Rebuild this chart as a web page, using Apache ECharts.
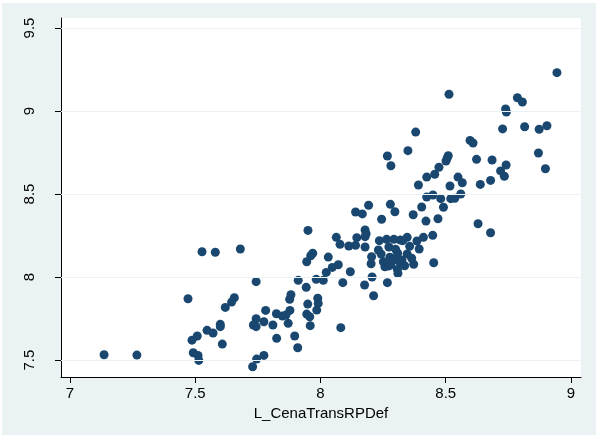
<!DOCTYPE html>
<html>
<head>
<meta charset="utf-8">
<script src="https://cdn.jsdelivr.net/npm/echarts@6/dist/echarts.min.js"></script>
<style>
  html, body { margin: 0; padding: 0; background: #fff; }
  .frame {
    position: absolute; left: 2px; top: 3px;
    width: 594px; height: 432px;
    background: #EAF2F3;
  }
  #chart { position: absolute; left: 0; top: 0; width: 596px; height: 435px; }
</style>
</head>
<body>
<div class="frame"></div>
<div id="chart"></div>
<script>
// L_CenaTransRPDef (x) vs. unnamed y
const xVals = [
  7.136, 7.267, 7.527, 7.580, 7.680, 7.743, 7.471, 7.656, 7.645, 7.620,
  7.743, 7.732, 7.743, 7.547, 7.571, 7.600, 7.600, 7.508, 7.487, 7.608,
  7.492, 7.511, 7.514, 7.745, 7.729, 7.774, 7.950, 7.969, 7.961, 7.945,
  7.911, 7.983, 7.943, 7.882, 7.877, 7.949, 7.989, 7.991, 7.985, 7.781,
  7.824, 7.848, 7.862, 7.878, 7.774, 7.810, 7.871, 7.945, 7.957, 7.959,
  7.897, 7.825, 7.909, 8.349, 8.267, 8.281, 8.424, 8.391, 8.424, 8.404,
  8.370, 8.421, 8.192, 8.140, 8.167, 8.279, 8.297, 8.244, 8.178, 8.182,
  8.178, 8.063, 8.078, 8.113, 8.140, 8.145, 8.178, 8.235, 8.264, 8.293,
  8.319, 8.346, 8.328, 8.411, 8.385, 8.394, 8.356, 8.231, 8.242, 8.273,
  8.300, 8.308, 8.204, 8.202, 8.346, 8.364, 8.372, 8.277, 8.291, 8.308,
  8.325, 8.320, 8.336, 8.251, 8.257, 8.271, 8.281, 8.307, 8.309, 8.267,
  8.206, 8.176, 8.212, 8.031, 8.071, 8.047, 8.023, 8.011, 8.119, 8.089,
  8.081, 8.513, 8.786, 8.806, 8.739, 8.742, 8.727, 8.815, 8.873, 8.904,
  8.870, 8.898, 8.597, 8.609, 8.623, 8.685, 8.719, 8.741, 8.734, 8.506,
  8.510, 8.501, 8.473, 8.456, 8.549, 8.566, 8.517, 8.638, 8.679, 8.449,
  8.480, 8.520, 8.536, 8.560, 8.491, 8.469, 8.448, 8.452, 8.629, 8.679,
  8.944, 8.380
];
const yVals = [
  7.532, 7.530, 8.152, 8.149, 8.169, 7.972, 7.869, 7.875, 7.849, 7.817,
  7.749, 7.711, 7.701, 7.679, 7.663, 7.715, 7.701, 7.645, 7.620, 7.596,
  7.544, 7.528, 7.498, 7.506, 7.460, 7.528, 8.281, 8.143, 8.128, 8.092,
  7.980, 7.986, 7.938, 7.893, 7.866, 7.837, 7.872, 7.841, 7.801, 7.799,
  7.779, 7.765, 7.771, 7.799, 7.731, 7.711, 7.721, 7.777, 7.761, 7.707,
  7.645, 7.631, 7.574, 8.761, 8.729, 8.670, 8.602, 8.554, 8.482, 8.422,
  8.375, 8.337, 8.432, 8.392, 8.380, 8.438, 8.393, 8.348, 8.283, 8.261,
  8.243, 8.239, 8.197, 8.187, 8.191, 8.237, 8.181, 8.219, 8.227, 8.227,
  8.223, 8.239, 8.219, 8.239, 8.217, 8.169, 8.185, 8.163, 8.139, 8.181,
  8.167, 8.143, 8.122, 8.080, 8.139, 8.113, 8.077, 8.119, 8.108, 8.102,
  8.102, 8.078, 8.068, 8.092, 8.062, 8.066, 8.074, 8.046, 8.022, 7.966,
  8.000, 7.952, 7.887, 8.120, 8.074, 8.058, 8.028, 7.980, 8.032, 7.966,
  7.695, 9.101, 9.080, 9.054, 9.012, 8.994, 8.892, 8.905, 8.890, 8.911,
  8.747, 8.652, 8.823, 8.807, 8.709, 8.705, 8.639, 8.675, 8.607, 8.717,
  8.731, 8.699, 8.661, 8.619, 8.602, 8.568, 8.548, 8.558, 8.582, 8.494,
  8.472, 8.472, 8.474, 8.500, 8.420, 8.351, 8.251, 8.086, 8.321, 8.267,
  9.231, 8.873
];
const xTicks = [7, 7.5, 8, 8.5, 9];
const yTicks = [7.5, 8, 8.5, 9, 9.5];

const points = xVals.map((x, i) => [x, yVals[i]]);

const chart = echarts.init(document.getElementById('chart'));

const option = {
  backgroundColor: 'transparent',
  animation: false,
  textStyle: { fontFamily: 'Liberation Sans, Arial, sans-serif' },
  grid: {
    left: 61,
    right: 15,
    top: 18,
    bottom: 58,
    show: true,
    backgroundColor: '#fff',
    borderWidth: 0
  },
  xAxis: {
    type: 'value',
    min: 6.964,
    max: 9.04,
    name: 'L_CenaTransRPDef',
    nameLocation: 'middle',
    nameGap: 24,
    nameTextStyle: { color: '#000', fontSize: 15 },
    axisLine: { show: true, lineStyle: { color: '#000', width: 1 } },
    axisTick: {
      show: true,
      length: 6,
      lineStyle: { color: '#000' },
      customValues: xTicks
    },
    axisLabel: {
      color: '#000',
      fontSize: 15,
      margin: 9,
      customValues: xTicks,
      formatter: v => String(v)
    },
    splitLine: { show: false }
  },
  yAxis: {
    type: 'value',
    min: 7.398,
    max: 9.56,
    axisLine: { show: true, lineStyle: { color: '#000', width: 1 } },
    axisTick: {
      show: true,
      length: 6,
      lineStyle: { color: '#000' },
      customValues: yTicks
    },
    axisLabel: {
      color: '#000',
      fontSize: 15,
      rotate: 90,
      margin: 24,
      customValues: yTicks,
      formatter: v => String(v)
    },
    splitLine: { show: false }
  },
  series: [
    {
      // horizontal grid lines at the y ticks
      type: 'line',
      data: [],
      silent: true,
      markLine: {
        silent: true,
        symbol: 'none',
        label: { show: false },
        lineStyle: { color: '#EAF2F3', width: 1, type: 'solid' },
        data: yTicks.map(v => ({ yAxis: v }))
      }
    },
    {
      type: 'scatter',
      data: points,
      symbol: 'circle',
      symbolSize: 9,
      itemStyle: { color: '#1A476F', opacity: 1 }
    }
  ]
};

chart.setOption(option);
</script>
</body>
</html>
